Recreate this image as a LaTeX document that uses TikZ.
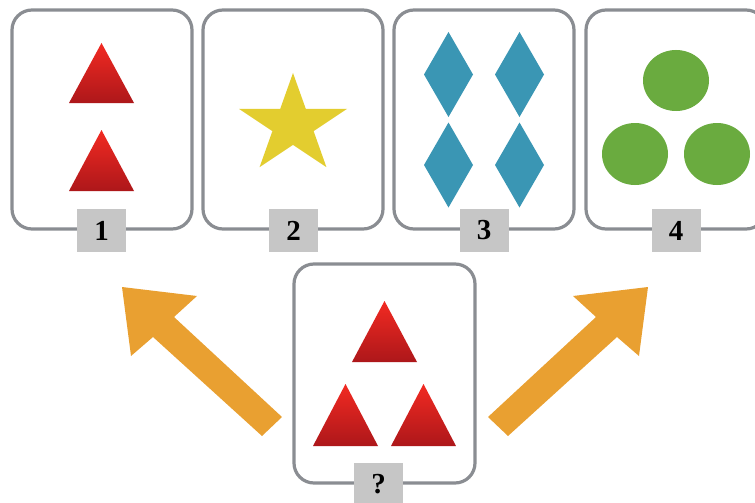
\documentclass[tikz,border=0pt]{standalone}
\usepackage{fontspec}
\setmainfont{Liberation Serif}
\definecolor{cardgray}{HTML}{8A8D92}
\definecolor{labelgray}{HTML}{C6C6C6}
\definecolor{trired1}{HTML}{F22A22}
\definecolor{trired2}{HTML}{AD171A}
\definecolor{staryellow}{HTML}{E3CD2F}
\definecolor{diamondblue}{HTML}{3A96B4}
\definecolor{circlegreen}{HTML}{6AAB3F}
\definecolor{arroworange}{HTML}{E9A031}
\tikzset{
 card/.style={draw=cardgray, line width=3.2pt, rounded corners=20pt, minimum width=180pt, minimum height=219pt, inner sep=0pt, fill=white},
 numlabel/.style={fill=labelgray, minimum width=49pt, minimum height=43pt, inner sep=0pt, font=\fontsize{29}{30}\selectfont\bfseries},
 redtri/.style={top color=trired1, bottom color=trired2, draw=none},
 bigarrow/.style={fill=arroworange, draw=none},
}
\begin{document}
\begin{tikzpicture}[x=1pt,y=-1pt]
\useasboundingbox (0,0) rectangle (755,503);
\clip (0,0) rectangle (755,503);
% cards
\node[card] (c1) at (102,119.5) {};
\node[card] (c2) at (293,119.5) {};
\node[card] (c3) at (484,119.5) {};
\node[card] (c4) at (676,119.5) {};
\node[card, minimum width=181pt] (cq) at (384.5,373.5) {};
% labels
\node[numlabel] (l1) at (101.5,230.5) {1};
\node[numlabel] (l2) at (293.5,230.5) {2};
\node[numlabel] (l3) at (484,230.5) {3};
\node[numlabel] (l4) at (676,230.5) {4};
\node[numlabel] (lq) at (378.5,484.5) {?};
% card 1 triangles
\shade[redtri] (69,103) -- (101.5,43) -- (134,103) -- cycle;
\shade[redtri] (69,191) -- (101.5,130) -- (134,191) -- cycle;
% card 2 star
\fill[staryellow] (293,73) -- (305.8,108.9) -- (347,108.9) -- (313.6,131.1) -- (326.4,167.1)
  -- (293,144.9) -- (259.6,167.1) -- (272.4,131.1) -- (239,108.9) -- (280.2,108.9) -- cycle;
% card 3 diamonds
\foreach \dx/\dy in {448.5/74.5, 519.5/74.5, 448.5/165, 519.5/165}{
  \fill[diamondblue] (\dx,\dy-42.5) -- (\dx+24.5,\dy) -- (\dx,\dy+42.5) -- (\dx-24.5,\dy) -- cycle;
}
% card 4 circles
\fill[circlegreen] (676,80.5) ellipse [x radius=33, y radius=30.5];
\fill[circlegreen] (635,154) ellipse [x radius=33, y radius=31];
\fill[circlegreen] (717,154) ellipse [x radius=33, y radius=31];
% center card triangles
\shade[redtri] (352,362) -- (384.5,301) -- (417,362) -- cycle;
\shade[redtri] (313,446) -- (345.5,384) -- (378,446) -- cycle;
\shade[redtri] (391,446) -- (423.5,384) -- (456,446) -- cycle;
% arrows
\fill[bigarrow] (122,287) -- (197,296) -- (174,317) -- (282,417) -- (262,436) -- (153,337) -- (131,356) -- cycle;
\fill[bigarrow] (648,287) -- (573,296) -- (596,317) -- (488,417) -- (508,436) -- (617,337) -- (639,356) -- cycle;
\end{tikzpicture}
\end{document}
